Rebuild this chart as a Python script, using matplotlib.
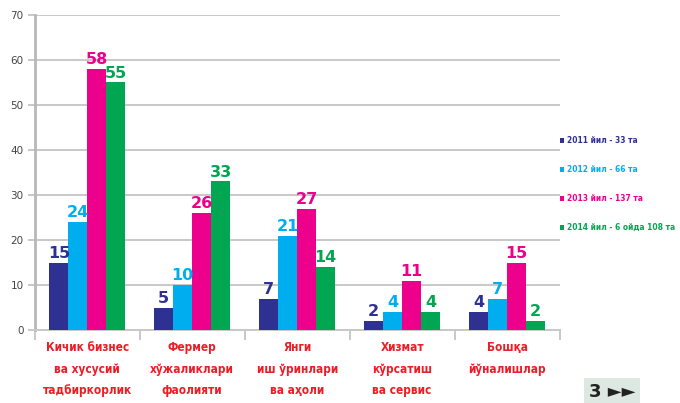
import numpy as np
import matplotlib.pyplot as plt

categories = [
    "Кичик бизнес\nва хусусий\nтадбиркорлик",
    "Фермер\nхўжаликлари\nфаолияти",
    "Янги\nиш ўринлари\nва аҳоли",
    "Хизмат\nкўрсатиш\nва сервис",
    "Бошқа\nйўналишлар",
]
series_names = [
    "2011 йил - 33 та",
    "2012 йил - 66 та",
    "2013 йил - 137 та",
    "2014 йил - 6 ойда 108 та",
]
v2011 = [15, 5, 7, 2, 4]
v2012 = [24, 10, 21, 4, 7]
v2013 = [58, 26, 27, 11, 15]
v2014 = [55, 33, 14, 4, 2]
colors = ["#2e3192", "#00aeef", "#ec008c", "#00a651"]

fig = plt.figure(figsize=(6.8, 4.03), dpi=100)
ax = fig.add_axes([0.051, 0.181, 0.772, 0.782])

x = np.arange(len(categories))
w = 0.18
for i, vals in enumerate([v2011, v2012, v2013, v2014]):
    pos = x + (i - 1.5) * w
    ax.bar(pos, vals, width=w, color=colors[i], label=series_names[i], zorder=3)
    for p, v in zip(pos, vals):
        ax.text(p, v + 0.4, str(v), ha="center", va="bottom", color=colors[i],
                fontsize=11.5, fontweight="bold", zorder=4)

ax.set_xlim(-0.5, len(categories) - 0.5)
ax.set_ylim(0, 70)
ax.set_yticks(range(0, 71, 10))
ax.yaxis.grid(True, color="#c8c8c8", linewidth=1.4, zorder=0)
ax.tick_params(axis="y", labelsize=7.5, labelcolor="#444444", color="#c8c8c8",
               length=5, width=1.4, pad=3)

ax.set_xticks(x)
ax.set_xticklabels(categories, color="#ee1c25", fontsize=8.5, fontweight="bold",
                   fontstretch="condensed", linespacing=1.85)
ax.set_xticks(np.arange(len(categories) + 1) - 0.5, minor=True)
ax.tick_params(axis="x", which="major", length=0, pad=8)
ax.tick_params(axis="x", which="minor", length=7, width=1.4, color="#c8c8c8")

for s in ["top", "right"]:
    ax.spines[s].set_visible(False)
ax.spines["left"].set_color("#b8b8b8")
ax.spines["left"].set_linewidth(2)
ax.spines["bottom"].set_color("#c8c8c8")
ax.spines["bottom"].set_linewidth(1.4)

leg = fig.legend(loc="center left", bbox_to_anchor=(0.818, 0.543), frameon=False,
                 handlelength=0.5, handleheight=0.5, handletextpad=0.4,
                 labelspacing=2.4, borderaxespad=0,
                 prop={"size": 6.0, "weight": "bold", "stretch": "condensed"})
for t, c in zip(leg.get_texts(), colors):
    t.set_color(c)

fig.text(0.9, 0.005, "3 ►►", fontsize=13, fontweight="bold", color="#222222",
         ha="center", va="bottom",
         bbox=dict(boxstyle="square,pad=0.25", facecolor="#dde8e2", edgecolor="none"))

fig.savefig("out.png", dpi=100)
